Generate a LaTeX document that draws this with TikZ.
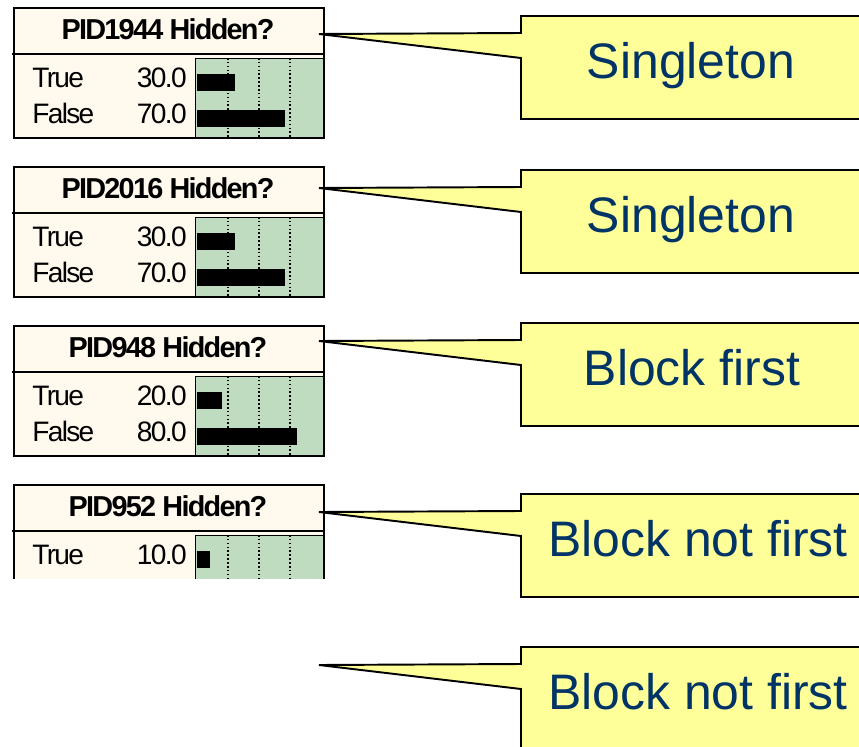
\documentclass[tikz,border=0pt]{standalone}
\usepackage{fontspec}
\setmainfont{Liberation Sans}
\newfontfamily\tightfont[LetterSpace=-6]{Liberation Sans}
\usepackage{xcolor}
\usepackage{tikz}
\definecolor{paper}{HTML}{FFF9EE}
\definecolor{bargreen}{HTML}{C0DCC0}
\definecolor{note}{HTML}{FFFF99}
\definecolor{notetext}{HTML}{003366}
\tikzset{
  frame/.style={draw=black,line width=1.1pt,fill=paper},   % Knotenrahmen
  chart/.style={draw=black,line width=0.5pt,fill=bargreen},% Balkenfeld
  tickline/.style={line width=1.1pt,dash pattern=on 0.9pt off 1.3pt},
  bar/.style={fill=black},
  ttl/.style={font=\tightfont\bfseries\fontsize{16.4}{18}\selectfont,inner sep=0pt,anchor=base},
  lab/.style={font=\tightfont\fontsize{16}{18}\selectfont,inner sep=0pt,anchor=base west},
  val/.style={lab,anchor=base east},
  callout/.style={draw=black,line width=1.1pt,fill=note,line join=miter},
  says/.style={font=\fontsize{28.4}{32}\selectfont,text=notetext,inner sep=0pt,anchor=base}
}
% #1 name, #2 top, #3 title, #4 true value
\newcommand{\netbox}[4]{%
  \draw[frame] (14,#2) rectangle (324,#2+130);
  \draw[line width=1.1pt] (12,#2+46) -- (323,#2+46);
  \draw[chart] (195,#2+50) rectangle (323,#2+129.5);
  \foreach \g in {228,259,290}
    \draw[tickline] (\g,#2+50) -- (\g,#2+130);
  \node[ttl] (#1-title) at (168,#2+31) {#3};
  \node[lab] (#1-true) at (32,#2+79) {True};
  \node[val] (#1-ptrue) at (187,#2+79) {#4};
  \fill[bar] (197,#2+66) rectangle (197+1.25*#4,#2+83);
}
% #1 name, #2 top, #3 false value
\newcommand{\falserow}[3]{%
  \node[lab] (#1-false) at (32,#2+115) {False};
  \node[val] (#1-pfalse) at (187,#2+115) {#3};
  \fill[bar] (197,#2+102) rectangle (197+1.25*#3,#2+119);
}
% #1 name, #2 top, #3 text centre, #4 text
\newcommand{\callout}[4]{%
  \coordinate (#1-tip) at (319,#2+18);
  \draw[callout] (#1-tip) -- (521,#2+17) -- (521,#2) -- (880,#2)
    -- (880,#2+103) -- (521,#2+103) -- (521,#2+42) -- cycle;
  \node[says] (#1) at (#3,#2+62) {#4};
}

\begin{document}
\begin{tikzpicture}[x=0.02cm,y=-0.02cm]
  \clip (0,0) rectangle (859,747);
  \fill[white] (0,0) rectangle (859,747);

  \netbox{pid1944}{8}{PID1944 Hidden?}{30.0}
  \falserow{pid1944}{8}{70.0}
  \netbox{pid2016}{167}{PID2016 Hidden?}{30.0}
  \falserow{pid2016}{167}{70.0}
  \netbox{pid948}{326}{PID948 Hidden?}{20.0}
  \falserow{pid948}{326}{80.0}
  \begin{scope}
    \clip (0,480) rectangle (340,578);
    \netbox{pid952}{485}{PID952 Hidden?}{10.0}
  \end{scope}

  \callout{single1}{16}{691}{Singleton}
  \callout{single2}{170}{691}{Singleton}
  \callout{first}{323}{692}{Block first}
  \callout{notfirst1}{494}{698}{Block not first}
  \callout{notfirst2}{647}{698}{Block not first}
\end{tikzpicture}
\end{document}
